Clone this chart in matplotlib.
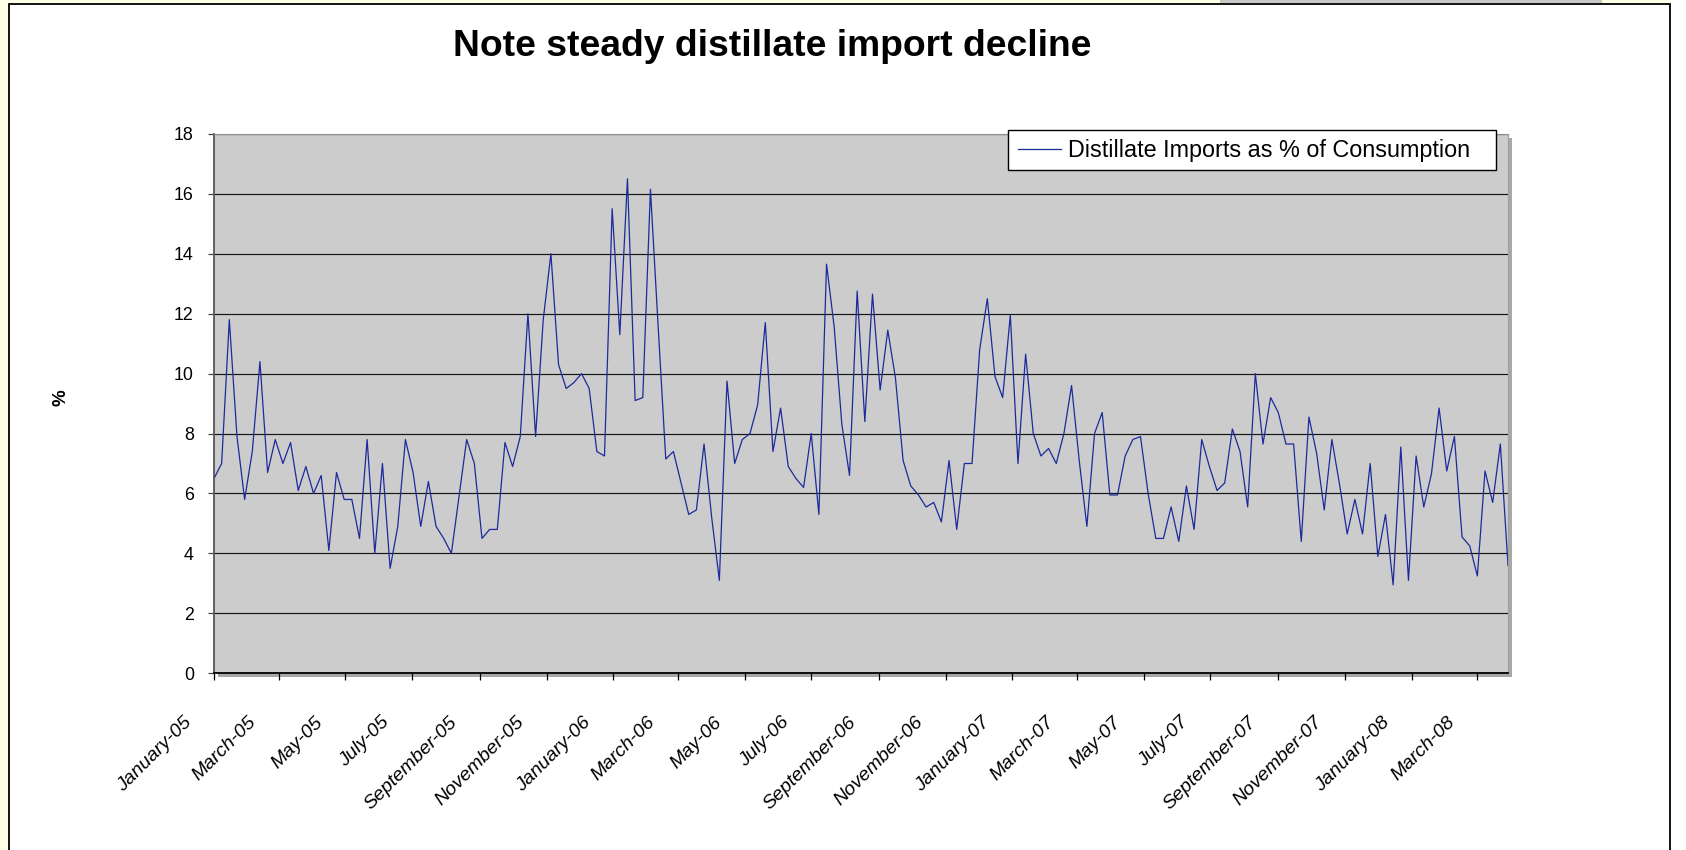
import matplotlib
matplotlib.use('Agg')
import matplotlib.pyplot as plt
from matplotlib.patches import Rectangle
from matplotlib.lines import Line2D
from matplotlib.transforms import ScaledTranslation
import pandas as pd

plt.rcParams['font.family'] = ['Liberation Sans', 'DejaVu Sans']

# ---- data (weekly, % of consumption) ----
start_date = '2005-01-07'
values = [
    6.5, 7.0, 11.8, 7.9, 5.8, 7.4, 10.4, 6.7, 7.8, 7.0,
    7.7, 6.1, 6.9, 6.0, 6.6, 4.1, 6.7, 5.8, 5.8, 4.5,
    7.8, 4.0, 7.0, 3.5, 4.9, 7.8, 6.7, 4.9, 6.4, 4.9,
    4.5, 4.0, 5.9, 7.8, 7.0, 4.5, 4.8, 4.8, 7.7, 6.9,
    7.9, 12.0, 7.9, 11.8, 14.0, 10.3, 9.5, 9.7, 10.0, 9.5,
    7.4, 7.25, 15.5, 11.3, 16.5, 9.1, 9.2, 16.15, 11.6, 7.15,
    7.4, 6.35, 5.3, 5.45, 7.65, 5.2, 3.1, 9.75, 7.0, 7.8,
    8.0, 8.95, 11.7, 7.4, 8.85, 6.9, 6.5, 6.2, 8.0, 5.3,
    13.65, 11.55, 8.3, 6.6, 12.75, 8.4, 12.65, 9.45, 11.45, 9.85,
    7.1, 6.25, 5.95, 5.55, 5.7, 5.05, 7.1, 4.8, 7.0, 7.0,
    10.8, 12.5, 9.9, 9.2, 11.95, 7.0, 10.65, 8.0, 7.25, 7.5,
    7.0, 8.0, 9.6, 7.1, 4.9, 8.0, 8.7, 5.95, 5.95, 7.25,
    7.8, 7.9, 6.0, 4.5, 4.5, 5.55, 4.4, 6.25, 4.8, 7.8,
    6.9, 6.1, 6.35, 8.15, 7.4, 5.55, 10.0, 7.65, 9.2, 8.7,
    7.65, 7.65, 4.4, 8.55, 7.35, 5.45, 7.8, 6.3, 4.65, 5.8,
    4.65, 7.0, 3.9, 5.3, 2.95, 7.55, 3.1, 7.25, 5.55, 6.65,
    8.85, 6.75, 7.9, 4.55, 4.25, 3.25, 6.75, 5.7, 7.65, 3.6,
]
series_label = 'Distillate Imports as % of Consumption'
title_text = 'Note steady distillate import decline'
y_label = '%'
y_ticks = list(range(0, 20, 2))

dates = pd.date_range(start_date, periods=len(values), freq='7D')
tick_dates = []
k = 0
while dates[0] + pd.DateOffset(months=2 * k) <= dates[-1]:
    tick_dates.append(dates[0] + pd.DateOffset(months=2 * k))
    k += 1
tick_labels = [d.strftime('%B-%y') for d in tick_dates]

# ---- figure ----
W, H = 1686, 850
fig = plt.figure(figsize=(W / 100, H / 100), dpi=100)
fig.patch.set_facecolor('#FFFFE6')


def fx(px):
    return px / W


def fy(py):
    return 1 - py / H


def frect(x0, y0, x1, y1, **kw):
    r = Rectangle((fx(x0), fy(y1)), fx(x1) - fx(x0), fy(y0) - fy(y1),
                  transform=fig.transFigure, **kw)
    fig.add_artist(r)
    return r


# outer white panel with black border
frect(9, 4, 1670, 853, facecolor='white', edgecolor='black', lw=1.3, zorder=-3)
frect(1671, -2, 1690, 853, facecolor='white', edgecolor='none', zorder=-3)
frect(1220, -2, 1602, 3, facecolor='#C8C8C8', edgecolor='none', zorder=-2)

# plot-area shadow
ax_l, ax_r, ax_t, ax_b = 214, 1508, 133.8, 673.3
frect(ax_l + 4, ax_t + 4, ax_r + 4, ax_b + 4, facecolor='#A8A8A8',
      edgecolor='none', zorder=-1)

ax = fig.add_axes([fx(ax_l), fy(ax_b), fx(ax_r) - fx(ax_l), fy(ax_t) - fy(ax_b)])
ax.set_facecolor('#CCCCCC')
line, = ax.plot(dates, values, color='#1B2A9C', lw=0.9)
ax.set_xlim(dates[0], dates[-1])
ax.set_ylim(0, 18)

ax.set_yticks(y_ticks)
ax.set_yticklabels([str(t) for t in y_ticks], fontsize=12.8)
ax.yaxis.grid(True, color='#151515', lw=0.85)
ax.set_axisbelow(True)

ax.set_xticks(tick_dates)
ax.set_xticklabels(tick_labels, rotation=45, ha='right', va='center',
                   rotation_mode='anchor', style='italic', fontsize=14)
ax.tick_params(axis='x', direction='out', length=5, width=0.9,
               color='black', pad=28.5)
ax.tick_params(axis='y', direction='out', length=4.5, width=0.9,
               color='#444444', pad=10)
offset = ScaledTranslation(-0.25, 0, fig.dpi_scale_trans)
for lab in ax.get_xticklabels():
    lab.set_transform(lab.get_transform() + offset)

ax.spines['left'].set_color('#555555')
ax.spines['left'].set_linewidth(1.3)
ax.spines['bottom'].set_color('black')
ax.spines['bottom'].set_linewidth(1.3)
ax.spines['top'].set_color('#909090')
ax.spines['top'].set_linewidth(0.8)
ax.spines['right'].set_color('#A0A0A0')
ax.spines['right'].set_linewidth(0.8)

# title and axis label
fig.text(fx(772), fy(47), title_text, ha='center', va='center',
         fontsize=26.8, fontweight='bold')
fig.text(fx(61), fy(398), y_label, ha='center', va='center', rotation=90,
         fontsize=13.5, fontweight='bold')

# legend box
frect(1008, 130, 1496, 169.5, facecolor='white', edgecolor='black',
      lw=1.0, zorder=4)
handle = Line2D([], [], color=line.get_color(), lw=0.9)
leg = fig.legend([handle], [series_label], loc='center left',
                 bbox_to_anchor=(fx(1017.7), fy(150.5)), frameon=False,
                 borderaxespad=0, borderpad=0, handlelength=1.85,
                 handletextpad=0.3, fontsize=16.8)
leg.set_zorder(5)

fig.savefig('out.png', dpi=100, facecolor=fig.get_facecolor())
